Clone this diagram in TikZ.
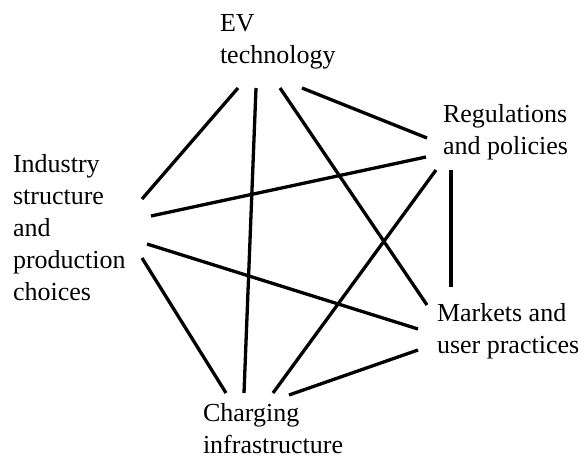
\documentclass[tikz,border=0pt]{standalone}
\usepackage{fontspec}
\setmainfont{Liberation Serif}
\begin{document}
\begin{tikzpicture}[x=1pt,y=-1pt,
  label/.style={inner sep=0pt,outer sep=0pt,align=left,anchor=base west,
    font=\fontsize{26}{32}\selectfont},
  link/.style={line width=3.3pt,black}]
\useasboundingbox (0,0) rectangle (584,463);
% topic labels (anchored at the baseline of their last line)
\node[label] (ev)  at (220,63)  {EV\\technology};
\node[label] (reg) at (443,154) {Regulations\\and policies};
\node[label] (ind) at (13,300)  {Industry\\structure\\and\\production\\choices};
\node[label] (mkt) at (437,353) {Markets and\\user practices};
\node[label] (chg) at (203,453) {Charging\\infrastructure};
% connection ports
\coordinate (ev1) at (238,88);  \coordinate (ev2) at (256,88);
\coordinate (ev3) at (280,88);  \coordinate (ev4) at (302,88);
\coordinate (reg1) at (427,138); \coordinate (reg2) at (426,157);
\coordinate (reg3) at (436,170); \coordinate (reg4) at (451,170);
\coordinate (ind1) at (142,199); \coordinate (ind2) at (151,216);
\coordinate (ind3) at (147,244); \coordinate (ind4) at (142,258);
\coordinate (mkt1) at (451,287); \coordinate (mkt2) at (427,305);
\coordinate (mkt3) at (418,329); \coordinate (mkt4) at (418,350);
\coordinate (chg1) at (226,393); \coordinate (chg2) at (244,393);
\coordinate (chg3) at (273,393); \coordinate (chg4) at (289,395);
% links between every pair of topics
\draw[link] (ev1) -- (ind1);
\draw[link] (ev2) -- (chg2);
\draw[link] (ev3) -- (mkt2);
\draw[link] (ev4) -- (reg1);
\draw[link] (ind2) -- (reg2);
\draw[link] (ind3) -- (mkt3);
\draw[link] (ind4) -- (chg1);
\draw[link] (reg3) -- (chg3);
\draw[link] (reg4) -- (mkt1);
\draw[link] (mkt4) -- (chg4);
\end{tikzpicture}
\end{document}
